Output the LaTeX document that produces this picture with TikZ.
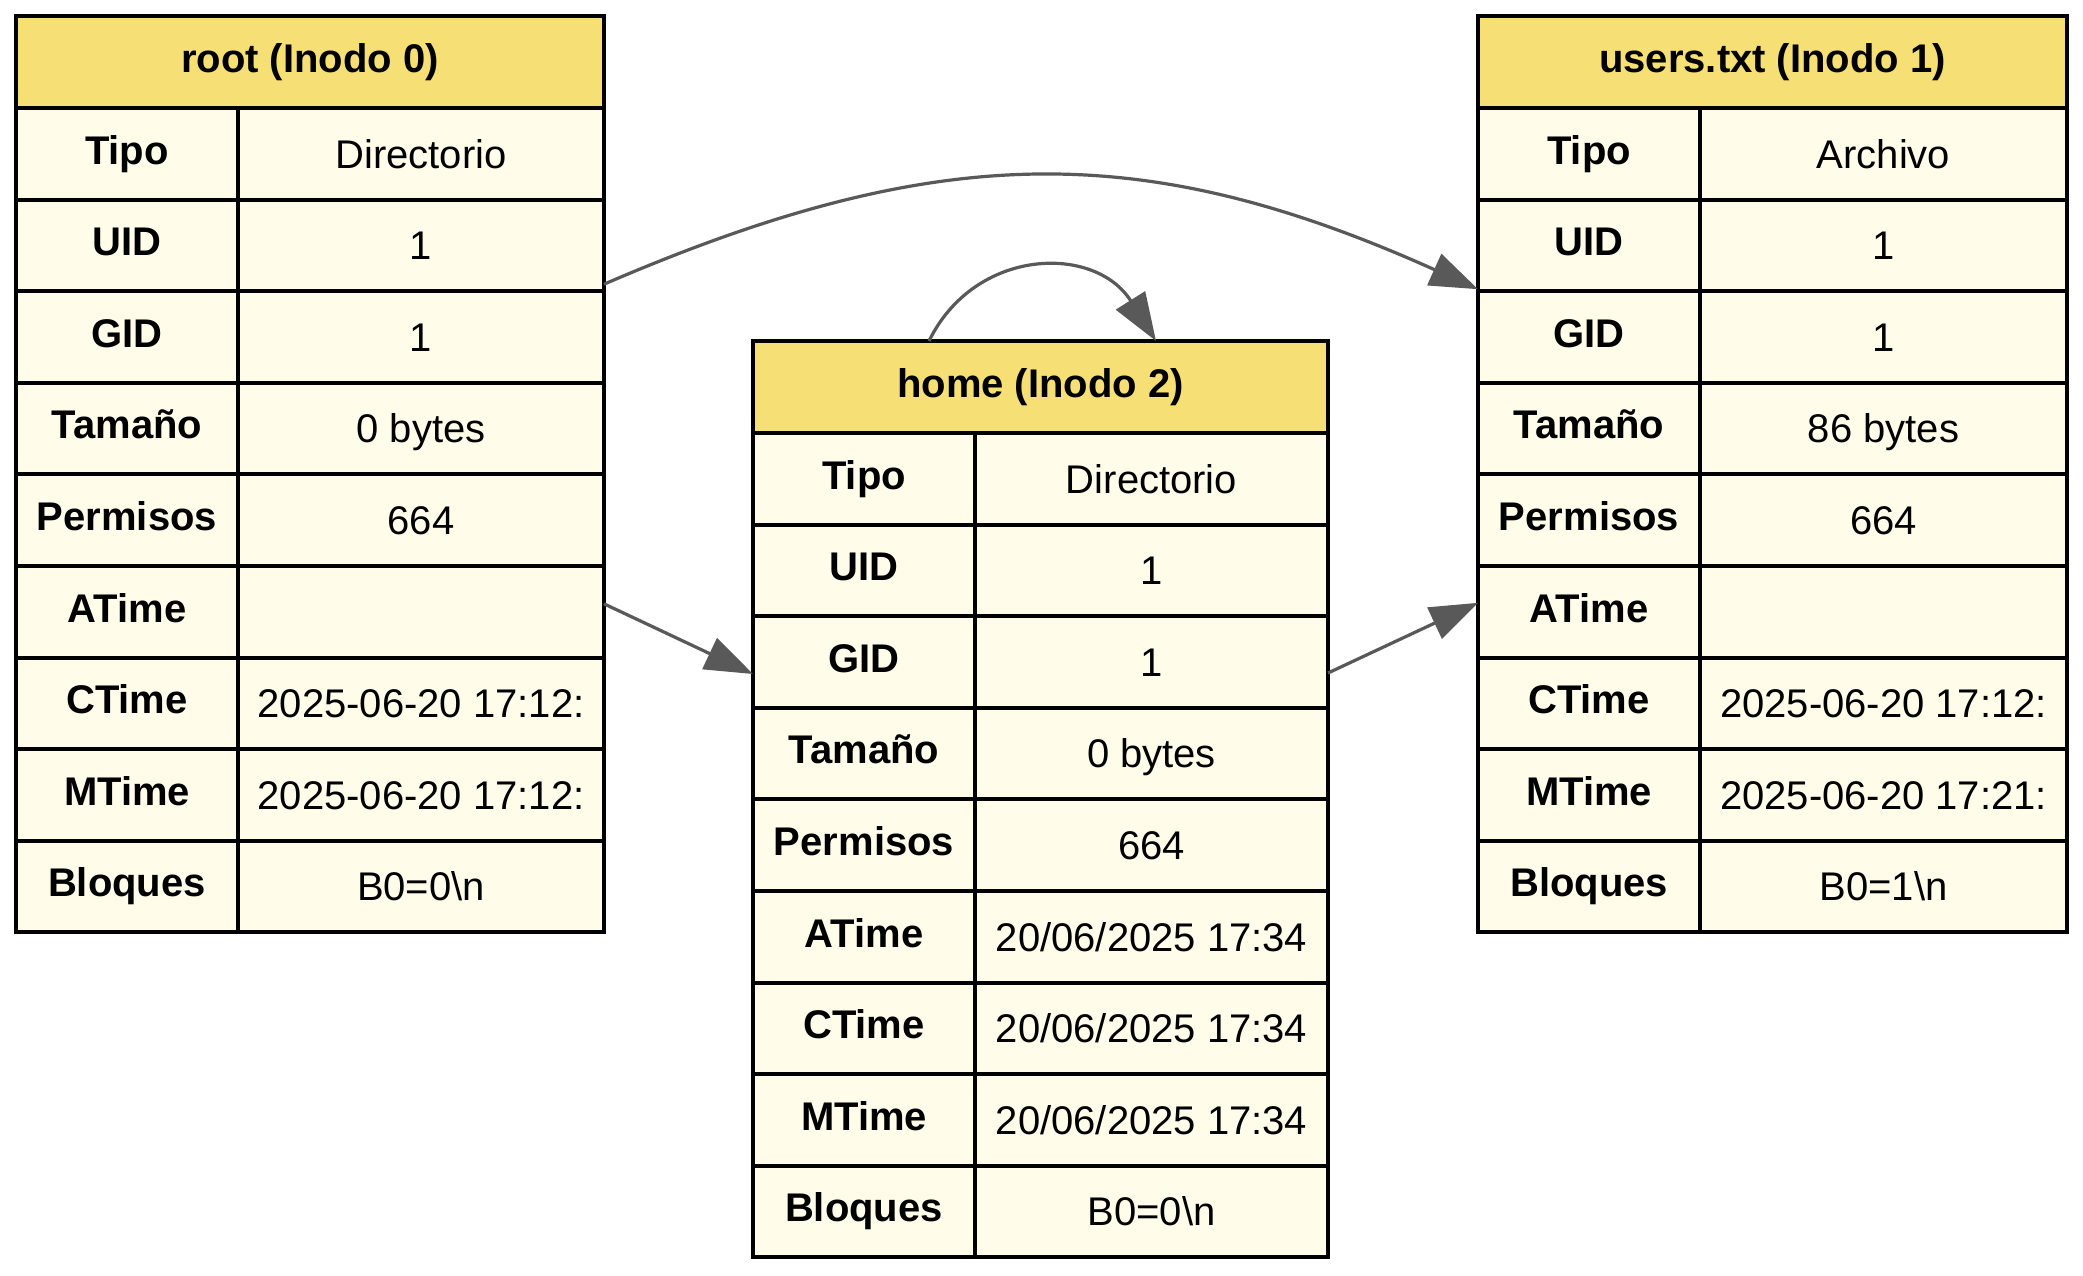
\documentclass[tikz,border=0pt]{standalone}
\usepackage{fontspec}
\setmainfont{Liberation Sans}
\usetikzlibrary{arrows.meta}
\definecolor{hdrfill}{HTML}{F6DF75}
\definecolor{cellfill}{HTML}{FFFDE9}
\definecolor{edgegray}{HTML}{595959}
\tikzset{
  cellbase/.style={draw=black, line width=2pt, inner sep=0pt, outer sep=0pt, anchor=north west},
  hdrcell/.style={cellbase, fill=hdrfill, font=\fontsize{20pt}{24pt}\selectfont\bfseries,
    text height=10.2pt, text depth=0pt, minimum height=46pt},
  labcell/.style={cellbase, fill=cellfill, font=\fontsize{20pt}{24pt}\selectfont\bfseries,
    text height=10.2pt, text depth=0pt, minimum height=45.8pt, minimum width=111pt},
  valcell/.style={cellbase, fill=cellfill, font=\fontsize{20pt}{24pt}\selectfont,
    text height=14.2pt, text depth=0pt, minimum height=45.8pt},
  link/.style={draw=edgegray, line width=1.6pt, -{Triangle[length=24pt,width=17pt]}}
}
\newcommand{\inodetable}[6]{%
  \node[hdrcell, minimum width={(222+#4)*0.5pt}] (#1-h) at (#2,#3) {#5};
  \foreach \lab/\val [count=\i] in {#6} {
    \node[labcell] (#1-l\i) at ({#2},{#3+92+(\i-1)*91.6}) {\lab};
    \node[valcell, minimum width={#4*0.5pt}] (#1-v\i) at ({#2+222},{#3+92+(\i-1)*91.6}) {\val};
  }%
}
\begin{document}
\begin{tikzpicture}[x=0.5pt, y=-0.5pt]
\fill[white] (0,0) rectangle (2083,1275);
\useasboundingbox (0,0) rectangle (2083,1275);

\inodetable{root}{16}{16}{366}{root (Inodo 0)}{%
  {Tipo}/{Directorio}, {UID}/{1}, {GID}/{1}, {Tamaño}/{0 bytes}, {Permisos}/{664},
  {ATime}/{}, {CTime}/{2025-06-20 17:12:}, {MTime}/{2025-06-20 17:12:},
  {Bloques}/{B0=0\textbackslash n}}

\inodetable{home}{753}{341}{353}{home (Inodo 2)}{%
  {Tipo}/{Directorio}, {UID}/{1}, {GID}/{1}, {Tamaño}/{0 bytes}, {Permisos}/{664},
  {ATime}/{20/06/2025 17:34}, {CTime}/{20/06/2025 17:34}, {MTime}/{20/06/2025 17:34},
  {Bloques}/{B0=0\textbackslash n}}

\inodetable{users}{1478}{16}{367}{users.txt (Inodo 1)}{%
  {Tipo}/{Archivo}, {UID}/{1}, {GID}/{1}, {Tamaño}/{86 bytes}, {Permisos}/{664},
  {ATime}/{}, {CTime}/{2025-06-20 17:12:}, {MTime}/{2025-06-20 17:21:},
  {Bloques}/{B0=1\textbackslash n}}

\draw[link] ([yshift=3.5pt]root-v2.south east) .. controls +(334,-144) and +(-334,-150) .. ([yshift=1pt]users-l2.south west);
\draw[link] ([yshift=4pt]root-v6.east) -- ([yshift=-6pt]home-l3.west);
\draw[link] ([yshift=-5.5pt]home-v3.east) -- ([yshift=4.5pt]users-l6.west);
\draw[link] ([xshift=-55.75pt]home-h.north) .. controls +(46,-94) and +(-61,-97) .. ([xshift=57.75pt]home-h.north);
\end{tikzpicture}
\end{document}
